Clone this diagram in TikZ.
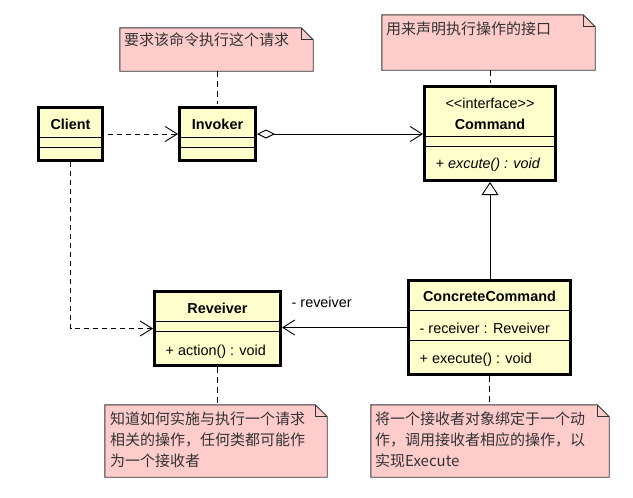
\documentclass[tikz,border=0pt]{standalone}
\usepackage{fontspec}
\setmainfont{Liberation Sans}
\newfontfamily\cjkfont{Noto Sans CJK SC}
\usetikzlibrary{positioning, arrows.meta, calc}
\definecolor{classFill}{HTML}{FFFFCC}
\definecolor{noteFill} {HTML}{FFCCCC}
\definecolor{noteEdge} {HTML}{333333}

\begin{document}
\begin{tikzpicture}[x=1pt, y=-1pt,
    umlclass/.style={draw=black, line width=2.6pt, fill=classFill, inner sep=0pt},
    compline/.style={line width=0.9pt},
    clsname/.style={font=\fontsize{14.4}{17}\selectfont\bfseries, inner sep=0pt, anchor=base},
    member/.style={font=\fontsize{14.4}{17}\selectfont, inner sep=0pt, anchor=base west},
    notetext/.style={font=\cjkfont\fontsize{15}{21}\selectfont, inner sep=0pt,
                     anchor=north west, align=left, text=black!80},
    dep/.style={dash pattern=on 5pt off 4pt, line width=0.9pt,
                -{Straight Barb[length=12pt, width=15pt]}},
    assoc/.style={line width=0.9pt, -{Straight Barb[length=12pt, width=15pt]}},
    notelink/.style={dash pattern=on 6pt off 4pt, line width=0.9pt, shorten >=2pt},
  ]
  \useasboundingbox (0,0) rectangle (633,498);

  % notes (outline drawn first, text on top)
  \foreach \name/\x/\y/\w/\h in
    {invnote/216.5/49.5/193/43, cmdnote/488.5/42.5/213/55,
     recnote/216/441/222/72,    ccnote/490/441/238/72}{
    \node[minimum width=\w pt, minimum height=\h pt, inner sep=0pt] (\name) at (\x,\y) {};
    \draw[noteEdge, fill=noteFill, line width=0.9pt]
      (\name.south west) -- (\name.north west) -- ([xshift=-12pt]\name.north east)
      -- ([yshift=-12pt]\name.north east) -- (\name.south east) -- cycle;
    \draw[noteEdge, line width=0.9pt]
      ([xshift=-12pt]\name.north east) |- ([yshift=-12pt]\name.north east);
  }
  \node[notetext] (invtext) at (124,33)  {要求该命令执行这个请求};
  \node[notetext] (cmdtext) at (386,21.5) {用来声明执行操作的接口};
  \node[notetext] (rectext) at (110,411.5)
    {知道如何实施与执行一个请求\\相关的操作，任何类都可能作\\为一个接收者};
  \node[notetext] (cctext)  at (375,411.5)
    {将一个接收者对象绑定于一个动\\作，调用接收者相应的操作，以\\实现Execute};

  % class boxes
  \foreach \name/\x/\y/\w/\h in
    {client/70.5/134/64.4/53.4,   invoker/217.5/134/76.4/53.4,
     command/490/133.5/131.4/94.4, concrete/489.5/327.5/162.4/94.4,
     reveiver/217.5/328.5/126.4/74.4}{
    \node[umlclass, minimum width=\w pt, minimum height=\h pt] (\name) at (\x,\y) {};
  }
  \foreach \name/\y in
    {client/137, client/147, invoker/137, invoker/147, command/136, command/146,
     concrete/310, concrete/340, reveiver/321, reveiver/331}{
    \draw[compline] (\name.west |- 0,\y) -- (\name.east |- 0,\y);
  }

  \node[clsname] (clientname)   at (70.5,129)  {Client};
  \node[clsname] (invokername)  at (217.5,129) {Invoker};
  \node[clsname, font=\fontsize{14.4}{17}\selectfont] (stereo) at (490,108)
    {<\kern0pt<interface>\kern0pt>};
  \node[clsname] (commandname)  at (490,129)   {Command};
  \node[clsname] (concretename) at (489.5,301.5) {ConcreteCommand};
  \node[clsname] (reveivername) at (217.5,313) {Reveiver};
  \node[member, font=\fontsize{14.4}{17}\selectfont\itshape] (cmdop) at (435.5,168)
    {+ excute() : void};
  \node[member] (ccattr) at (419.5,333) {- receiver : Reveiver};
  \node[member] (ccop)   at (419.5,363) {+ execute() : void};
  \node[member] (recop)  at (165.5,355) {+ action() : void};

  % connectors
  \draw[dep, shorten <=4pt] (client.east) -- (invoker.west);
  \draw[dep] (client.south) |- (reveiver.west);
  \draw[line width=0.9pt, {Diamond[open, length=18pt, width=9pt, fill=white]}-{Straight Barb[length=12pt, width=15pt]}]
    (invoker.east) -- (invoker.east -| command.west);
  \draw[line width=0.9pt, -{Triangle[open, length=13pt, width=17pt, fill=white]}]
    (command.south |- concrete.north) -- (command.south);
  \draw[assoc] (concrete.west) -- (concrete.west -| reveiver.east);
  \node[member] (rolelbl) at (291.5,307) {- reveiver};

  \draw[notelink] (invoker.north |- invnote.south) -- (invoker.north);
  \draw[notelink] (command.north |- cmdnote.south) -- (command.north);
  \draw[notelink] (reveiver.south) -- (reveiver.south |- recnote.north);
  \draw[notelink] (concrete.south) -- (concrete.south |- ccnote.north);
\end{tikzpicture}
\end{document}
